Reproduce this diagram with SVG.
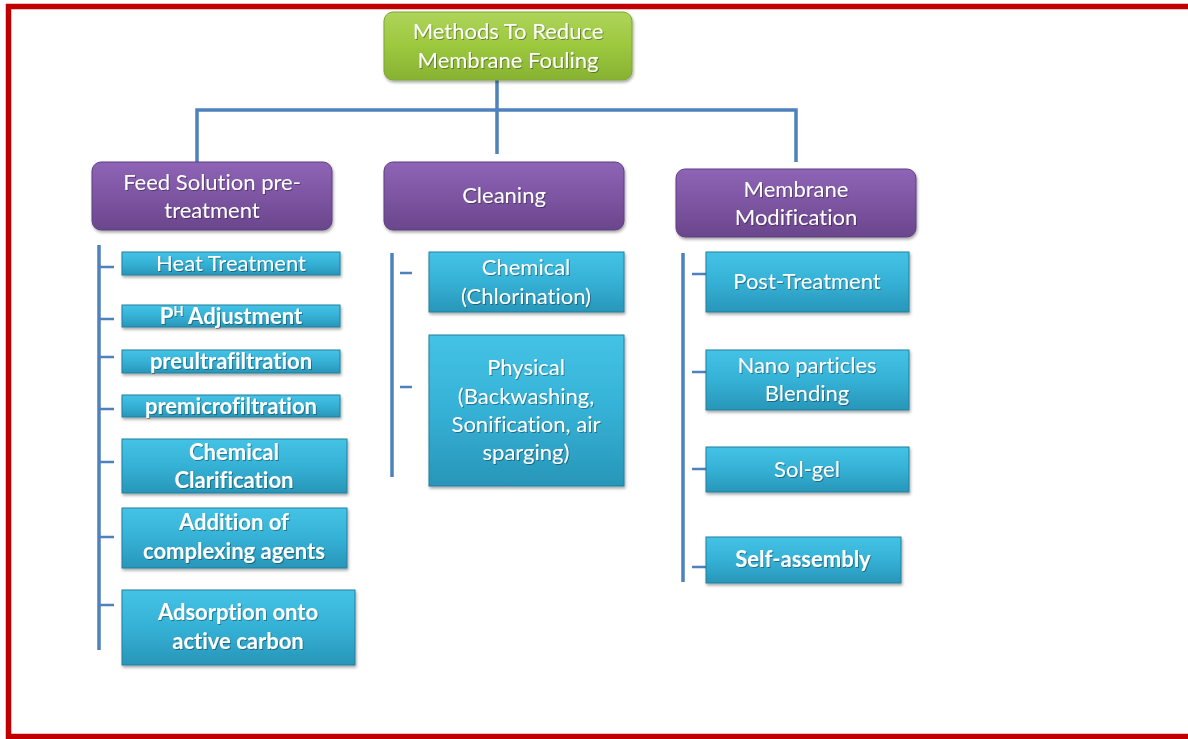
<svg xmlns="http://www.w3.org/2000/svg" width="1188" height="739" viewBox="0 0 1188 739">
<defs>
<linearGradient id="gGreen" x1="0" y1="0" x2="0" y2="1"><stop offset="0" stop-color="#aed45a"/><stop offset="0.5" stop-color="#9cc83e"/><stop offset="1" stop-color="#86b232"/></linearGradient>
<linearGradient id="gPurple" x1="0" y1="0" x2="0" y2="1"><stop offset="0" stop-color="#8e64b6"/><stop offset="0.5" stop-color="#7d55a2"/><stop offset="1" stop-color="#6a468c"/></linearGradient>
<linearGradient id="gCyan" x1="0" y1="0" x2="0" y2="1"><stop offset="0" stop-color="#44c3e6"/><stop offset="0.5" stop-color="#35b1d6"/><stop offset="1" stop-color="#2896b8"/></linearGradient>
<filter id="sh" x="-10%" y="-20%" width="120%" height="150%"><feDropShadow dx="1" dy="2" stdDeviation="1.5" flood-color="#000" flood-opacity="0.35"/></filter>
<filter id="tsh" x="-5%" y="-20%" width="110%" height="150%"><feDropShadow dx="1" dy="1" stdDeviation="0.6" flood-color="#000" flood-opacity="0.35"/></filter>
</defs>
<style>
.t{font-family:Lato,"Liberation Sans",sans-serif;font-size:22px;fill:#fff;text-anchor:middle;filter:url(#tsh);font-variant-ligatures:none}
.b{font-weight:bold}
.green{fill:url(#gGreen);stroke:#7ea636;stroke-width:1;filter:url(#sh)}
.purple{fill:url(#gPurple);stroke:#5e3f80;stroke-width:1;filter:url(#sh)}
.cyan{fill:url(#gCyan);stroke:#21809e;stroke-width:1;filter:url(#sh)}
.c{stroke:#4f81bd;stroke-width:3.5;fill:none}
.k{stroke:#4f81bd;stroke-width:2.5;fill:none}
</style>
<rect width="1188" height="739" fill="#fff"/>
<g id="frame" fill="none" stroke="#c00000" stroke-width="5.5">
<path d="M8.5 739 V6.5 H1188"/>
<path d="M8.5 736.5 H1188"/>
</g>
<g id="connectors">
<path class="c" d="M497 80 V154"/>
<path class="c" d="M197 162 V110 H796 V162"/>
<path class="c" d="M99 245 V650"/>
<path class="k" d="M99 267 H114 M99 319 H114 M99 357 H114 M99 409 H114 M99 462 H114 M99 537 H114 M99 605 H114"/>
<path class="c" d="M392 253 V477"/>
<path class="k" d="M400 273 H412 M400 387 H412"/>
<path class="c" d="M683 253 V582"/>
<path class="k" d="M692 274 H706 M692 372 H706 M692 469 H706 M692 567 H706"/>
</g>
<g id="root"><rect class="green" x="384" y="12" width="248" height="68" rx="9"/>
<text class="t" x="508" y="39">Methods To Reduce</text><text class="t" x="508" y="68">Membrane Fouling</text></g>
<g id="feed"><rect class="purple" x="92" y="162" width="240" height="68" rx="9"/>
<text class="t" x="212" y="190">Feed Solution pre-</text><text class="t" x="212" y="218">treatment</text></g>
<g id="cleaning"><rect class="purple" x="384" y="162" width="240" height="68" rx="9"/>
<text class="t" x="504" y="203">Cleaning</text></g>
<g id="modification"><rect class="purple" x="676" y="169" width="240" height="68" rx="9"/>
<text class="t" x="796" y="197">Membrane</text><text class="t" x="796" y="225">Modification</text></g>
<g id="heat"><rect class="cyan" x="122" y="252" width="218" height="23"/>
<text class="t" x="231" y="271">Heat Treatment</text></g>
<g id="ph"><rect class="cyan" x="122" y="305" width="218" height="22"/>
<text class="t b" x="231" y="324">P<tspan font-size="13" dy="-8">H</tspan><tspan dy="8"> Adjustment</tspan></text></g>
<g id="preultra"><rect class="cyan" x="122" y="350" width="218" height="23"/>
<text class="t b" x="231" y="369">preultrafiltration</text></g>
<g id="premicro"><rect class="cyan" x="122" y="395" width="218" height="22"/>
<text class="t b" x="231" y="414">premicrofiltration</text></g>
<g id="clarification"><rect class="cyan" x="122" y="439" width="225" height="54"/>
<text class="t b" x="234" y="460">Chemical</text><text class="t b" x="234" y="488">Clarification</text></g>
<g id="complexing"><rect class="cyan" x="122" y="508" width="225" height="60"/>
<text class="t b" x="234" y="530">Addition of</text><text class="t b" x="234" y="559">complexing agents</text></g>
<g id="adsorption"><rect class="cyan" x="122" y="590" width="233" height="75"/>
<text class="t b" x="238" y="620">Adsorption onto</text><text class="t b" x="238" y="649">active carbon</text></g>
<g id="chemical"><rect class="cyan" x="429" y="252" width="195" height="60"/>
<text class="t" x="526" y="275">Chemical</text><text class="t" x="526" y="304">(Chlorination)</text></g>
<g id="physical"><rect class="cyan" x="429" y="335" width="195" height="151"/>
<text class="t" x="526" y="375">Physical</text><text class="t" x="526" y="404">(Backwashing,</text><text class="t" x="526" y="432">Sonification, air</text><text class="t" x="526" y="460">sparging)</text></g>
<g id="post"><rect class="cyan" x="706" y="252" width="203" height="60"/>
<text class="t" x="807" y="289">Post-Treatment</text></g>
<g id="nano"><rect class="cyan" x="706" y="350" width="203" height="60"/>
<text class="t" x="807" y="373">Nano particles</text><text class="t" x="807" y="401">Blending</text></g>
<g id="solgel"><rect class="cyan" x="706" y="447" width="203" height="45"/>
<text class="t" x="807" y="477">Sol-gel</text></g>
<g id="selfassembly"><rect class="cyan" x="706" y="537" width="195" height="46"/>
<text class="t b" x="803" y="567">Self-assembly</text></g>
</svg>
